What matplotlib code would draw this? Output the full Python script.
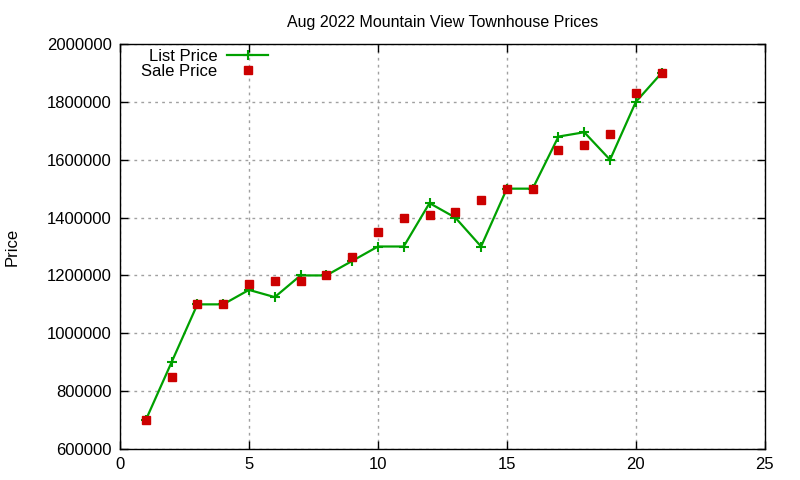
import matplotlib
matplotlib.use("Agg")
import matplotlib.pyplot as plt

plt.rcParams['font.family'] = ['Liberation Sans', 'DejaVu Sans']

# house number / index
idx = list(range(1, 22))
list_price = [700000, 900000, 1100000, 1100000, 1150000, 1125000, 1200000,
              1200000, 1250000, 1300000, 1300000, 1450000, 1400000, 1300000,
              1500000, 1500000, 1680000, 1695000, 1600000, 1800000, 1900000]
sale_price = [700000, 850000, 1100000, 1100000, 1170000, 1180000, 1180000,
              1200000, 1265000, 1350000, 1400000, 1410000, 1420000, 1460000,
              1500000, 1500000, 1635000, 1650000, 1690000, 1830000, 1900000]

fig = plt.figure(figsize=(8, 4.8), dpi=100)
ax = fig.add_axes([0.15, 0.0646, 0.806, 0.8437])

ax.plot(idx, list_price, color='#00a000', lw=1.6, marker='+', ms=7, mew=1.5,
        label='List Price')
ax.plot(idx, sale_price, ls='none', color='#cc0000', marker='s', ms=5.5,
        label='Sale Price')

ax.set_xlim(0, 25)
ax.set_ylim(600000, 2000000)
ax.set_xticks(range(0, 26, 5))
ax.set_yticks(range(600000, 2000001, 200000))
ax.ticklabel_format(style='plain', axis='y', useOffset=False)

ax.grid(True, color='#a0a0a0', ls=(0, (2, 3)), lw=1)
ax.tick_params(direction='in', top=True, right=True, labelsize=12,
               length=6, width=1, pad=6)
for s in ax.spines.values():
    s.set_linewidth(1)

ax.set_title('Aug 2022 Mountain View Townhouse Prices', fontsize=11.5, pad=12)
ax.set_ylabel('Price', fontsize=12, va='center')
ax.yaxis.set_label_coords(-0.167, 0.5)

ax.legend(loc='upper left', bbox_to_anchor=(0.012, 1.02), frameon=False,
          markerfirst=False, fontsize=12, handlelength=2.45,
          labelspacing=0.0, borderpad=0.3, handletextpad=0.6)

fig.savefig('out.png', dpi=100)
